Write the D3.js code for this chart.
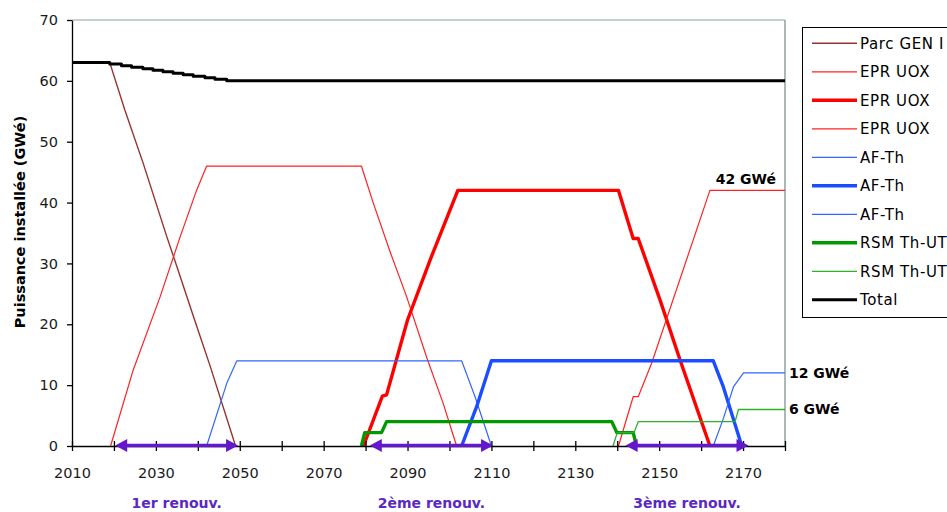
<!DOCTYPE html>
<html>
<head>
<meta charset="utf-8">
<script src="https://cdn.jsdelivr.net/npm/d3@7"></script>
<style>
  html, body { margin: 0; padding: 0; background: #fff; }
  svg { display: block; }
</style>
</head>
<body>
<svg id="chart" width="947" height="512"></svg>
<script>
// ---------- DATA ----------
const yTicks = [0, 10, 20, 30, 40, 50, 60, 70];
const xTicks = [2010, 2020, 2030, 2040, 2050, 2060, 2070, 2080, 2090, 2100, 2110, 2120, 2130, 2140, 2150, 2160, 2170, 2180];
const xTickLabels = [2010, 2030, 2050, 2070, 2090, 2110, 2130, 2150, 2170];

const seriesNames = ["Parc GEN I", "EPR UOX", "EPR UOX", "EPR UOX", "AF-Th", "AF-Th", "AF-Th", "RSM Th-UT", "RSM Th-UT", "Total"];

const parcGenI = [[2010,63],[2019,63],[2022.6,55.2],[2027,46.4],[2032.6,34.4],[2035,29.5],[2039,21.2],[2043,13],[2049,0]];
const eprUox1 = [[2019.2,0],[2024.6,12.5],[2031,24.5],[2035.8,34.4],[2039.7,42],[2042.1,46],[2079,46],[2081.8,40],[2085.8,32],[2089.8,24.5],[2094.6,14.5],[2098.5,7],[2101.7,0]];
const eprUox2 = [[2079.5,0],[2084,8.2],[2085,8.4],[2090,20.7],[2095.4,30.6],[2102,42],[2140.3,42],[2143.8,34.1],[2145,34.1],[2150.2,24],[2155,14.1],[2162.1,0]];
const eprUox3 = [[2140.3,0],[2143.8,8.1],[2145,8.1],[2148.2,13.6],[2162.1,42],[2180,42]];
const afTh1 = [[2042.1,0],[2046.9,10.3],[2049.3,14],[2102.9,14],[2106.1,8.1],[2110,0]];
const afTh2 = [[2102.9,0],[2106.5,6.5],[2110,14],[2162.9,14],[2165.3,9.7],[2169.7,0]];
const afTh3 = [[2162.9,0],[2165.3,4.5],[2167.7,9.7],[2170.1,12],[2180,12]];
const rsmThUt1 = [[2079,0],[2079.8,2.2],[2083.8,2.2],[2085,4],[2138.7,4],[2139.9,2.2],[2143.8,2.2],[2144.6,0]];
const rsmThUt2 = [[2139,0],[2140,2.2],[2144,2.2],[2145,4],[2168.1,4],[2168.9,6],[2180,6]];
// staircase total (step after)
const total = [[2010,63],[2019,62.75],[2021.8,62.5],[2024.2,62.25],[2026.9,62],[2029.3,61.75],[2031.7,61.5],[2034.1,61.25],[2036.5,61],[2038.9,60.75],[2041.7,60.5],[2044.1,60.25],[2046.9,60],[2180,60]];

const renewLabels = ["1er renouv.", "2ème renouv.", "3ème renouv."];
const renewStart = [2020.3, 2081, 2142];
const renewEnd = [2049.6, 2110.4, 2171.3];

const endLabels = ["42 GWé", "12 GWé", "6 GWé"];
const endValues = [42, 12, 6];

// ---------- STYLES ----------
const seriesData = [parcGenI, eprUox1, eprUox2, eprUox3, afTh1, afTh2, afTh3, rsmThUt1, rsmThUt2, total];
const seriesColors = ["#973232", "#ff2222", "#ff0000", "#ff2222", "#3366ff", "#1a4dff", "#3366ff", "#009a00", "#2eb02e", "#000000"];
const seriesWidths = [1.4, 1.2, 3.4, 1.2, 1.2, 3.4, 1.2, 3.4, 1.3, 3];

// ---------- LAYOUT ----------
const svg = d3.select("#chart");
const pLeft = 72, pRight = 785, pTop = 20, pBottom = 446;
const x = d3.scaleLinear().domain([2010, 2180]).range([pLeft, pRight]);
const y = d3.scaleLinear().domain([0, 70]).range([pBottom, pTop]);

// plot border (grey top & right)
svg.append("line").attr("x1", pLeft).attr("x2", pRight).attr("y1", pTop).attr("y2", pTop)
  .attr("stroke", "#8fa0a0").attr("stroke-width", 1.2);
svg.append("line").attr("x1", pRight).attr("x2", pRight).attr("y1", pTop).attr("y2", pBottom)
  .attr("stroke", "#8fa0a0").attr("stroke-width", 1.5);

// series
const line = d3.line().x(d => x(d[0])).y(d => y(d[1]));
const stepLine = d3.line().x(d => x(d[0])).y(d => y(d[1])).curve(d3.curveStepAfter);
seriesData.forEach((data, i) => {
  const gen = (i === seriesData.length - 1) ? stepLine : line;
  svg.append("path")
    .attr("d", gen(data))
    .attr("fill", "none")
    .attr("stroke", seriesColors[i])
    .attr("stroke-width", seriesWidths[i])
    .attr("stroke-linejoin", "round");
});

// axes
const fontTick = "DejaVu Sans, Verdana, sans-serif";
const yAxis = d3.axisLeft(y).tickValues(yTicks).tickSize(5).tickPadding(9).tickSizeOuter(0);
const gy = svg.append("g").attr("transform", `translate(${pLeft},0)`).call(yAxis);
const xAxis = d3.axisBottom(x).tickValues(xTicks).tickSize(5).tickPadding(17).tickSizeOuter(0)
  .tickFormat(d => xTickLabels.includes(d) ? String(d) : "");
const gx = svg.append("g").attr("transform", `translate(0,${pBottom})`).call(xAxis);
gx.selectAll(".tick line").attr("y1", -5).attr("y2", 5);
[gx, gy].forEach(g => {
  g.select(".domain").attr("stroke", "#000").attr("stroke-width", 1.3);
  g.selectAll(".tick line").attr("stroke", "#000").attr("stroke-width", 1.3);
  g.selectAll("text").attr("font-family", fontTick).attr("font-size", 14.5).attr("fill", "#1a1a1a");
});

// y axis title
svg.append("text")
  .attr("transform", `translate(25,222) rotate(-90)`)
  .attr("text-anchor", "middle")
  .attr("font-family", "DejaVu Sans, sans-serif")
  .attr("font-weight", "bold")
  .attr("font-size", 14.5)
  .attr("fill", "#000")
  .text("Puissance installée (GWé)");

// renewal arrows
const purple = "#6418cc";
renewStart.forEach((s, i) => {
  const x1 = x(s), x2 = x(renewEnd[i]), yy = pBottom - 0.5;
  const hl = 12, hw = 6.5;
  svg.append("line").attr("x1", x1 + hl - 2).attr("x2", x2 - hl + 2).attr("y1", yy).attr("y2", yy)
    .attr("stroke", purple).attr("stroke-width", 3.6);
  svg.append("path").attr("d", `M${x1},${yy} L${x1 + hl},${yy - hw} L${x1 + hl},${yy + hw} Z`).attr("fill", purple);
  svg.append("path").attr("d", `M${x2},${yy} L${x2 - hl},${yy - hw} L${x2 - hl},${yy + hw} Z`).attr("fill", purple);
  svg.append("text")
    .attr("x", (x1 + x2) / 2)
    .attr("y", 508)
    .attr("text-anchor", "middle")
    .attr("font-family", "DejaVu Sans, sans-serif")
    .attr("font-weight", "bold")
    .attr("font-size", 14)
    .attr("fill", "#5a28c4")
    .text(renewLabels[i]);
});

// end labels
endLabels.forEach((t, i) => {
  const isTop = i === 0;
  svg.append("text")
    .attr("x", isTop ? 776 : 789)
    .attr("y", isTop ? y(endValues[i]) - 6 : y(endValues[i]) + 5)
    .attr("text-anchor", isTop ? "end" : "start")
    .attr("font-family", "DejaVu Sans, sans-serif")
    .attr("font-weight", "bold")
    .attr("font-size", 14)
    .attr("fill", "#000")
    .text(t);
});

// legend
svg.append("rect").attr("x", 802.5).attr("y", 27.5).attr("width", 160).attr("height", 290)
  .attr("fill", "#fff").attr("stroke", "#000").attr("stroke-width", 1);
seriesNames.forEach((name, i) => {
  const ly = 43.3 + i * 28.5;
  svg.append("line").attr("x1", 812).attr("x2", 857).attr("y1", ly).attr("y2", ly)
    .attr("stroke", seriesColors[i]).attr("stroke-width", seriesWidths[i]);
  svg.append("text").attr("x", 860).attr("y", ly + 5.5)
    .attr("font-family", "DejaVu Sans, Verdana, sans-serif")
    .attr("font-size", 15)
    .attr("letter-spacing", 0.6)
    .attr("fill", "#000")
    .text(name);
});
</script>
</body>
</html>
